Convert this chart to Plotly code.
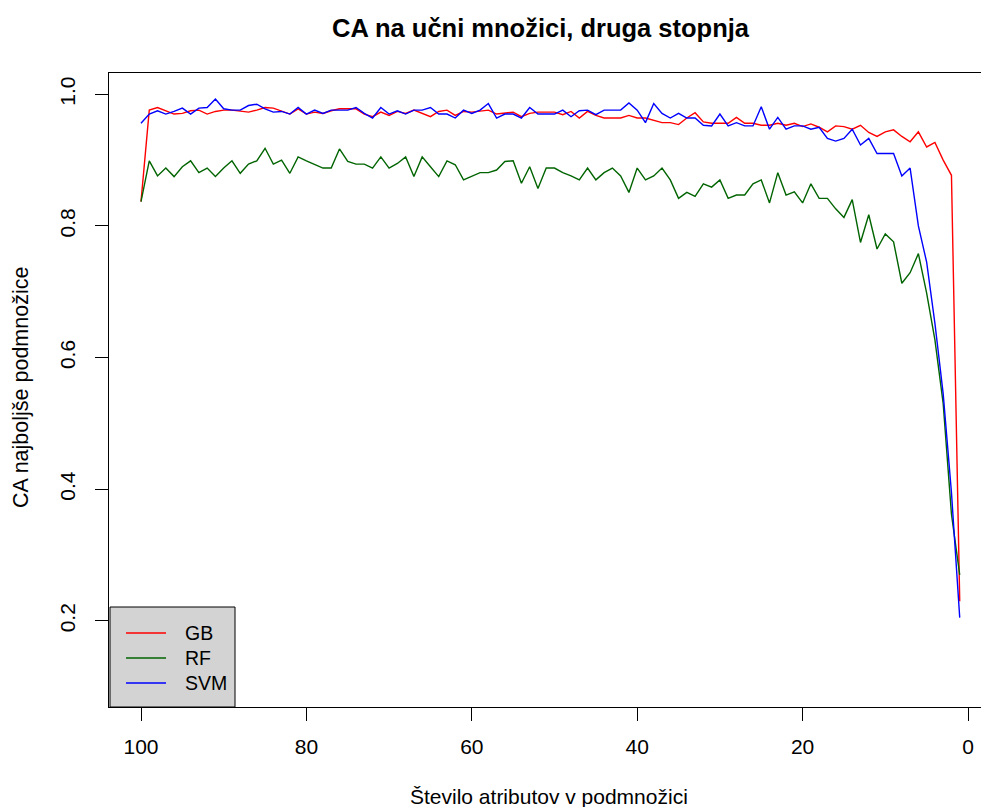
import plotly.graph_objects as go

n_attr = list(range(100, 0, -1))

gb = [0.837, 0.976, 0.980, 0.975, 0.970, 0.971, 0.975, 0.976, 0.970, 0.974,
      0.976, 0.976, 0.974, 0.973, 0.976, 0.980, 0.979, 0.974, 0.970, 0.978,
      0.970, 0.973, 0.971, 0.975, 0.978, 0.978, 0.978, 0.970, 0.966, 0.973,
      0.968, 0.974, 0.971, 0.976, 0.971, 0.966, 0.974, 0.976, 0.968, 0.974,
      0.973, 0.974, 0.976, 0.970, 0.971, 0.973, 0.966, 0.971, 0.973, 0.973,
      0.973, 0.969, 0.974, 0.964, 0.974, 0.968, 0.964, 0.964, 0.964, 0.968,
      0.964, 0.964, 0.961, 0.957, 0.957, 0.954, 0.964, 0.972, 0.958, 0.956,
      0.956, 0.956, 0.965, 0.956, 0.956, 0.953, 0.953, 0.956, 0.953, 0.956,
      0.951, 0.955, 0.950, 0.943, 0.952, 0.951, 0.947, 0.953, 0.942, 0.936,
      0.943, 0.946, 0.936, 0.928, 0.943, 0.920, 0.927, 0.900, 0.877, 0.230]

rf = [0.837, 0.899, 0.876, 0.888, 0.875, 0.890, 0.899, 0.881, 0.888, 0.875,
      0.888, 0.899, 0.880, 0.894, 0.899, 0.918, 0.894, 0.900, 0.880, 0.905,
      0.899, 0.894, 0.888, 0.888, 0.917, 0.898, 0.894, 0.894, 0.888, 0.905,
      0.888, 0.895, 0.905, 0.875, 0.905, 0.890, 0.875, 0.899, 0.893, 0.870,
      0.875, 0.881, 0.881, 0.885, 0.898, 0.899, 0.865, 0.890, 0.857, 0.888,
      0.888, 0.881, 0.876, 0.870, 0.888, 0.870, 0.881, 0.888, 0.876, 0.851,
      0.888, 0.870, 0.876, 0.888, 0.870, 0.842, 0.851, 0.845, 0.864, 0.859,
      0.870, 0.842, 0.847, 0.847, 0.864, 0.870, 0.835, 0.881, 0.847, 0.852,
      0.835, 0.864, 0.842, 0.842, 0.826, 0.813, 0.840, 0.775, 0.817, 0.765,
      0.788, 0.776, 0.713, 0.729, 0.758, 0.698, 0.627, 0.530, 0.362, 0.270]

svm = [0.956, 0.970, 0.975, 0.970, 0.974, 0.979, 0.970, 0.979, 0.980, 0.993,
       0.978, 0.976, 0.976, 0.983, 0.985, 0.978, 0.973, 0.974, 0.970, 0.980,
       0.970, 0.976, 0.971, 0.976, 0.976, 0.976, 0.980, 0.971, 0.964, 0.980,
       0.970, 0.975, 0.970, 0.976, 0.976, 0.980, 0.970, 0.970, 0.964, 0.976,
       0.971, 0.976, 0.986, 0.964, 0.970, 0.970, 0.964, 0.980, 0.970, 0.970,
       0.970, 0.976, 0.966, 0.975, 0.976, 0.969, 0.976, 0.976, 0.976, 0.987,
       0.976, 0.957, 0.986, 0.971, 0.964, 0.971, 0.964, 0.964, 0.953, 0.952,
       0.970, 0.952, 0.957, 0.952, 0.952, 0.981, 0.947, 0.965, 0.947, 0.952,
       0.952, 0.947, 0.950, 0.933, 0.929, 0.933, 0.947, 0.923, 0.933, 0.910,
       0.910, 0.910, 0.876, 0.888, 0.800, 0.745, 0.652, 0.545, 0.395, 0.205]

series_names = ["GB", "RF", "SVM"]
series_colors = ["#FF0000", "#006400", "#0000FF"]
series_values = [gb, rf, svm]

x_ticks = [0, 20, 40, 60, 80, 100]
y_ticks = [0.2, 0.4, 0.6, 0.8, 1.0]
y_tick_labels = ["0.2", "0.4", "0.6", "0.8", "1.0"]

title_text = "CA na učni množici, druga stopnja"
x_label = "Število atributov v podmnožici"
y_label = "CA najboljše podmnožice"

FONT = "Liberation Sans, Arial, sans-serif"

fig = go.Figure()
for name, col, vals in zip(series_names, series_colors, series_values):
    fig.add_trace(go.Scatter(x=n_attr, y=vals, mode="lines", name=name,
                             line=dict(color=col, width=1.4), showlegend=False))

W, H = 981, 807
L, R, T, B = 109, 0, 73, 100
pw, ph = W - L - R, H - T - B


def px_x(p):
    return (p - L) / pw


def px_y(p):
    return (H - B - p) / ph


fig.update_layout(
    width=W, height=H,
    margin=dict(l=L, r=R, t=T, b=B, pad=0),
    paper_bgcolor="white", plot_bgcolor="white",
    font=dict(family=FONT, size=21, color="#000000"),
    showlegend=False,
)

fig.update_xaxes(
    range=[103.87, -1.572], tickvals=x_ticks, ticks="outside", ticklen=13,
    tickcolor="#000000", tickwidth=1, showline=True, linecolor="#000000",
    linewidth=1, mirror=True, showgrid=False, zeroline=False,
    tickfont=dict(size=21), ticklabelstandoff=8,
)
fig.update_yaxes(
    range=[0.0692, 1.0324], tickvals=y_ticks, ticktext=y_tick_labels,
    ticks="outside", ticklen=13, tickcolor="#000000", tickwidth=1,
    showline=True, linecolor="#000000", linewidth=1, mirror=False,
    showgrid=False, zeroline=False, tickangle=-90, tickfont=dict(size=21),
    ticklabelstandoff=12,
)

annotations = [
    dict(text="<b>" + title_text + "</b>", x=px_x(541), y=px_y(28),
         xref="paper", yref="paper", showarrow=False, xanchor="center",
         yanchor="middle", font=dict(size=25.5, family=FONT)),
    dict(text=x_label, x=px_x(549), y=px_y(796), xref="paper", yref="paper",
         showarrow=False, xanchor="center", yanchor="middle",
         font=dict(size=21, family=FONT)),
    dict(text=y_label, x=px_x(21), y=px_y(388), xref="paper", yref="paper",
         showarrow=False, xanchor="center", yanchor="middle", textangle=-90,
         font=dict(size=21.5, family=FONT)),
]

shapes = [dict(type="rect", xref="paper", yref="paper",
               x0=px_x(110), x1=px_x(235), y0=px_y(707), y1=px_y(607),
               fillcolor="#D3D3D3", line=dict(color="#000000", width=1))]
leg_rows = [633, 658, 683]
for name, col, row in zip(series_names, series_colors, leg_rows):
    shapes.append(dict(type="line", xref="paper", yref="paper",
                       x0=px_x(126), x1=px_x(166), y0=px_y(row), y1=px_y(row),
                       line=dict(color=col, width=1.4)))
    annotations.append(dict(text=name, x=px_x(183), y=px_y(row), xref="paper",
                            yref="paper", showarrow=False, xanchor="left",
                            yanchor="middle", font=dict(size=19.5, family=FONT)))

fig.update_layout(annotations=annotations, shapes=shapes)
fig.write_html(
    "out.html",
    config={"displayModeBar": False},
    post_script="document.body.style.margin='0';document.body.style.overflow='hidden';",
)
